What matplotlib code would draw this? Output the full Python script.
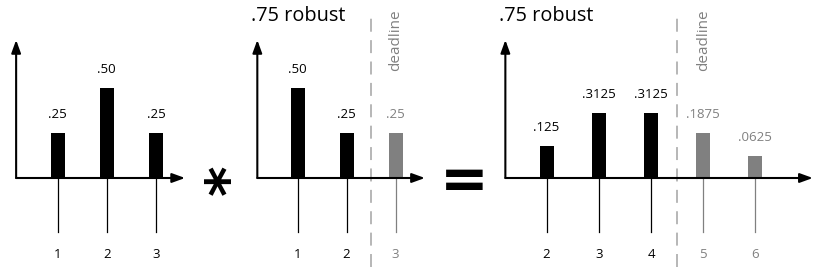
import matplotlib.pyplot as plt

# left: input distribution
p1_cats = [1, 2, 3]
p1_vals = [0.25, 0.50, 0.25]
p1_labels = ['.25', '.50', '.25']
p1_late = [False, False, False]

# middle: .75 robust, last bin is past the deadline
p2_cats = [1, 2, 3]
p2_vals = [0.50, 0.25, 0.25]
p2_labels = ['.50', '.25', '.25']
p2_late = [False, False, True]

# right: result (bar heights as drawn, labels as printed)
p3_cats = [2, 3, 4, 5, 6]
p3_vals = [0.178, 0.361, 0.361, 0.25, 0.122]
p3_labels = ['.125', '.3125', '.3125', '.1875', '.0625']
p3_late = [False, False, False, True, True]

title = '.75 robust'
grey = '#808080'
dash_grey = '#a3a3a3'

plt.rcParams['font.family'] = ['Open Sans', 'DejaVu Sans']

W, H = 830, 267
base = 178        # baseline, px from top
pxu = 180         # px per unit on y
ylim = (-(H - base) / pxu, base / pxu)

fig = plt.figure(figsize=(W / 100, H / 100), dpi=100)


def make_ax(left, right, c0, c0_px, s):
    ax = fig.add_axes([left / W, 0, (right - left) / W, 1])
    ax.set_xlim(c0 - (c0_px - left) / s, c0 + (right - c0_px) / s)
    ax.set_ylim(*ylim)
    ax.axis('off')
    return ax


def draw_panel(ax, cats, vals, labels, late, s, x0, xend, deadline=None):
    cols = [grey if l else 'black' for l in late]
    ax.bar(cats, vals, width=14 / s, color=cols, zorder=3)
    head = '-|>,head_length=0.55,head_width=0.2'
    ax.annotate('', xy=(xend, 0), xytext=(x0, 0),
                arrowprops=dict(arrowstyle=head, color='black', lw=1.5,
                                mutation_scale=14, shrinkA=0, shrinkB=0))
    ax.annotate('', xy=(x0, 138 / pxu), xytext=(x0, 0),
                arrowprops=dict(arrowstyle=head, color='black', lw=1.5,
                                mutation_scale=14, shrinkA=0, shrinkB=0))
    for c, v, lab, col in zip(cats, vals, labels, cols):
        ax.plot([c, c], [-54 / pxu, 0], color=col, lw=0.9)
        ax.text(c, -77 / pxu, str(c), ha='center', va='center',
                fontsize=9.5, color=col)
        ax.annotate(lab, (c, v), xytext=(0, 11), textcoords='offset points',
                    ha='center', va='baseline', fontsize=9.5, color=col)
    if deadline is not None:
        ax.plot([deadline, deadline], [ylim[0], 166 / pxu], color=dash_grey,
                lw=1.1, ls=(0, (8.5, 5.5)))
        first_late = cats[late.index(True)]
        ax.text(first_late, 169 / pxu, 'deadline', rotation=90, ha='center',
                va='top', fontsize=11, color=grey)
        ax.text(x0 - 0.12, 157 / pxu, title, ha='left', va='baseline',
                fontsize=14.3)


ax1 = make_ax(0, 200, 1, 57.5, 49.25)
draw_panel(ax1, p1_cats, p1_vals, p1_labels, p1_late, 49.25, 0.16, 3.59)

ax2 = make_ax(240, 440, 1, 297.5, 49)
draw_panel(ax2, p2_cats, p2_vals, p2_labels, p2_late, 49, 0.18, 3.6,
           deadline=2.5)

ax3 = make_ax(495, 830, 4, 651, 52.2)
draw_panel(ax3, p3_cats, p3_vals, p3_labels, p3_late, 52.2, 1.21, 7.1,
           deadline=4.5)

# operators between the panels (asterisk rotated so its arms lie flat)
fig.text(230 / W, 1 - 180 / H, '*', ha='center', va='center', rotation=90,
         fontsize=42, fontweight='bold', family='DejaVu Sans')
fig.text(464 / W, 1 - 182 / H, '=', ha='center', va='center',
         fontsize=42, fontweight='bold', family='DejaVu Sans')

fig.savefig('out.png', dpi=100)
